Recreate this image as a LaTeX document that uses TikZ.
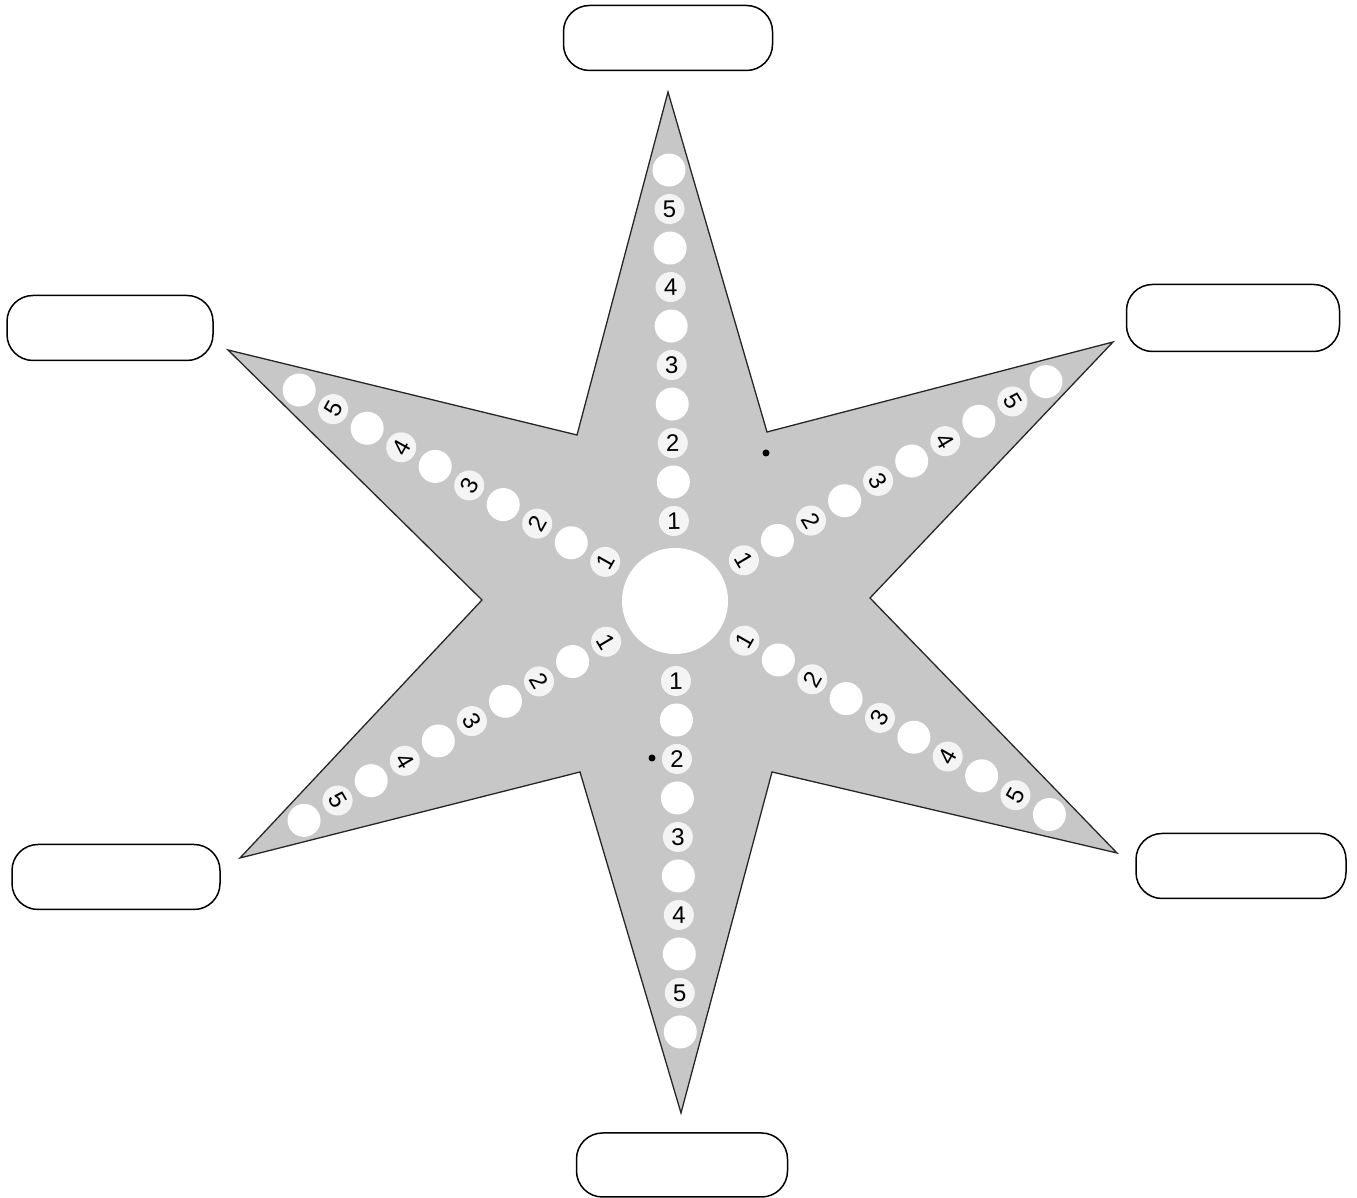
\documentclass[tikz,border=0pt]{standalone}
\usepackage{fontspec}
\setmainfont{Liberation Sans}
\begin{document}
\begin{tikzpicture}[x=1pt,y=1pt,
  starfill/.style={fill=black!22, draw=black!85, line width=1.3pt, line join=miter},
  hole/.style={circle, fill=white, minimum size=33pt, inner sep=0pt},
  numhole/.style={circle, fill=white!80!black!22, minimum size=30pt, inner sep=0pt, font=\fontsize{24}{24}\selectfont},
  namebox/.style={draw=black, line width=1.5pt, rounded corners=26pt, fill=white, minimum height=65pt, inner sep=0pt},
  speck/.style={circle, fill=black, inner sep=0pt, minimum size=7pt}
]
\useasboundingbox (0,0) rectangle (1357,1198);
\coordinate (ctr) at (675,597);
% star
\draw[starfill] (668,1106) -- (767,766) -- (1113,856) -- (870,600) -- (1117,345) -- (772,426)
  -- (681,85) -- (580,426) -- (240,340) -- (482,598) -- (228,848) -- (577,763) -- cycle;
% centre hole
\node[circle, fill=white, minimum size=106pt, inner sep=0pt] (hub) at (ctr) {};
% arms
\foreach \a/\r/\n in {90.8/0.8/T, 30.6/-59.4/UR, -29.7/60.3/LR, -89.3/0.7/B, -149.4/-59.4/LL, 150.7/60.7/UL} {
  \foreach \k in {1,...,5} {
    \node[hole] (c\n\k) at ([shift={(\a:{41+78*\k})}]ctr) {};
    \node[numhole, rotate=\r] (l\n\k) at ([shift={(\a:{2+78*\k})}]ctr) {\k};
  }
}
% specks
\node[speck] (s1) at (766,745) {};
\node[speck] (s2) at (652,440) {};
% name boxes
\node[namebox, minimum width=209pt] (bT) at (668,1160) {};
\node[namebox, minimum width=206pt] (bUL) at (110,870) {};
\node[namebox, minimum width=213pt, minimum height=67pt] (bUR) at (1233,880) {};
\node[namebox, minimum width=208pt] (bLL) at (116,321) {};
\node[namebox, minimum width=210pt] (bLR) at (1241,332) {};
\node[namebox, minimum width=211pt, minimum height=64pt] (bB) at (682,33) {};
\end{tikzpicture}
\end{document}
